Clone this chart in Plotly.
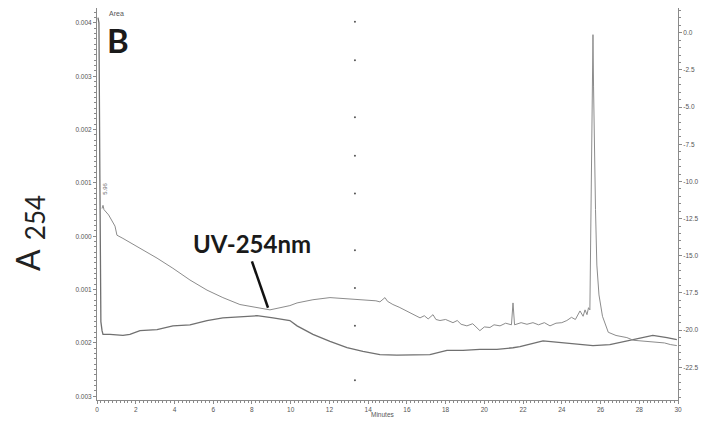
import plotly.graph_objects as go

# Upper trace (UV-254nm), values in units of 0.001 AU
uv_time = [0.26, 0.31, 0.36, 0.41, 0.6, 0.93, 1.03, 1.34, 2.22, 3.10,
           3.92, 4.80, 5.68, 6.50, 7.38, 8.26, 8.93, 9.45, 9.96, 10.33,
           11.15, 12.03, 12.91, 13.73, 14.40, 14.61, 14.87, 15.0, 15.28, 15.6,
           16.00, 16.3, 16.68, 16.9, 17.1, 17.35, 17.5, 17.71, 18.0, 18.38,
           18.6, 18.8, 19.10, 19.4, 19.77, 20.0, 20.29, 20.5, 20.81, 21.1,
           21.40, 21.48, 21.56, 21.9, 22.2, 22.51, 22.8, 23.1, 23.39, 23.7,
           24.0, 24.26, 24.5, 24.7, 24.94, 25.1, 25.20, 25.30, 25.38, 25.45,
           25.49, 25.54, 25.58, 25.61, 25.64, 25.68, 25.74, 25.81, 25.92, 26.1,
           26.4, 26.8, 27.36, 27.7, 28.03, 28.4, 28.91, 29.3, 29.6, 29.94]
uv_value = [0.52, 0.58, 0.50, 0.48, 0.40, 0.19, 0.02, -0.04, -0.22, -0.41,
            -0.60, -0.82, -1.01, -1.15, -1.28, -1.34, -1.38, -1.34, -1.30, -1.25,
            -1.19, -1.15, -1.17, -1.19, -1.21, -1.23, -1.15, -1.22, -1.28, -1.33,
            -1.40, -1.45, -1.53, -1.49, -1.55, -1.47, -1.56, -1.58, -1.56, -1.62,
            -1.58, -1.65, -1.68, -1.64, -1.77, -1.70, -1.71, -1.66, -1.68, -1.63,
            -1.66, -1.25, -1.66, -1.62, -1.65, -1.62, -1.66, -1.62, -1.68, -1.63,
            -1.62, -1.58, -1.52, -1.56, -1.40, -1.50, -1.38, -1.47, -1.34, -1.38,
            0.10, 1.60, 3.00, 3.78, 2.80, 1.60, 0.50, -0.54, -1.10, -1.50,
            -1.80, -1.86, -1.90, -1.95, -1.96, -1.98, -1.99, -2.00, -2.03, -2.05]

# Lower trace
base_time = [0.05, 0.10, 0.15, 0.20, 0.26, 0.31, 0.67, 1.34, 1.70, 2.22,
             3.10, 3.92, 4.80, 5.68, 6.50, 7.38, 8.26, 9.09, 9.96, 10.33,
             11.15, 12.03, 12.91, 13.73, 14.61, 15.49, 16.31, 17.19, 18.07, 18.90,
             19.77, 20.65, 21.48, 21.84, 23.03, 23.90, 24.78, 25.61, 26.48, 27.36,
             28.03, 28.70, 29.43, 29.94]
base_value = [4.1, 4.0, 1.0, -1.6, -1.77, -1.84, -1.84, -1.86, -1.84, -1.77,
              -1.75, -1.68, -1.66, -1.58, -1.53, -1.51, -1.49, -1.53, -1.58, -1.68,
              -1.84, -1.97, -2.09, -2.16, -2.22, -2.23, -2.23, -2.22, -2.14, -2.14,
              -2.12, -2.12, -2.09, -2.07, -1.96, -1.99, -2.03, -2.05, -2.03, -1.96,
              -1.90, -1.86, -1.90, -1.94]

# Event marker dots
event_time = 13.32
event_dots = [4.02, 3.30, 2.23, 1.51, 0.80, -0.26, -0.97, -1.68, -2.70]

left_ticks = [4, 3, 2, 1, 0, -1, -2, -3]
left_labels = ["0.004", "0.003", "0.002", "0.001", "0.000", "0.001", "0.002", "0.003"]
right_ticks = [0, -2.5, -5, -7.5, -10, -12.5, -15, -17.5, -20, -22.5]
right_labels = ["0.0", "-2.5", "-5.0", "-7.5", "-10.0", "-12.5", "-15.0", "-17.5", "-20.0", "-22.5"]
x_ticks = list(range(0, 31, 2))

tickfont = dict(family="Liberation Sans", size=6.5, color="#555")
axcol = "#8a8a8a"

fig = go.Figure()
fig.add_trace(go.Scatter(x=base_time, y=base_value, mode="lines",
                         line=dict(color="#707070", width=1.3), showlegend=False))
fig.add_trace(go.Scatter(x=uv_time, y=uv_value, mode="lines",
                         line=dict(color="#8c8c8c", width=1.0), showlegend=False))
fig.add_trace(go.Scatter(x=[event_time] * len(event_dots), y=event_dots, mode="markers",
                         marker=dict(color="#555", size=2), showlegend=False))
fig.add_trace(go.Scatter(x=[None], y=[None], yaxis="y2", showlegend=False))

fig.update_layout(
    width=708, height=421,
    margin=dict(l=97, r=30, t=8, b=18),
    paper_bgcolor="white", plot_bgcolor="white",
    xaxis=dict(range=[0, 30], tickvals=x_ticks, showgrid=False, zeroline=False,
               showline=True, linecolor=axcol, linewidth=1,
               ticks="outside", ticklen=3, tickcolor=axcol, tickfont=tickfont,
               minor=dict(dtick=0.2, ticks="outside", ticklen=2, tickcolor=axcol)),
    yaxis=dict(range=[-3.07, 4.28], tickvals=left_ticks, ticktext=left_labels,
               showgrid=False, zeroline=False, showline=True, linecolor=axcol, linewidth=1,
               ticks="outside", ticklen=3, tickcolor=axcol, tickfont=tickfont,
               minor=dict(dtick=0.1, ticks="outside", ticklen=2, tickcolor=axcol)),
    yaxis2=dict(range=[-24.70, 1.67], overlaying="y", side="right",
                tickvals=right_ticks, ticktext=right_labels,
                showgrid=False, zeroline=False, showline=True, linecolor=axcol, linewidth=1,
                ticks="outside", ticklen=3, tickcolor=axcol, tickfont=tickfont,
                minor=dict(dtick=0.5, ticks="outside", ticklen=2, tickcolor=axcol)),
)

# UV-254nm pointer line
fig.add_shape(type="line", x0=8.00, y0=-0.47, x1=8.83, y1=-1.34,
              line=dict(color="#111", width=2.5))

fig.add_annotation(text="<b>UV-254nm</b>", x=8.0, y=-0.13, xref="x", yref="y",
                   showarrow=False, font=dict(family="Lato", size=24, color="#1a1a1a"),
                   xanchor="center", yanchor="middle")
fig.add_annotation(text="<b>B</b>", x=0.036, y=0.918, xref="paper", yref="paper",
                   showarrow=False, borderpad=0,
                   font=dict(family="Lato", size=33, color="#1a1a1a"),
                   xanchor="center", yanchor="middle")
fig.add_annotation(text="Area", x=0.034, y=0.986, xref="paper", yref="paper",
                   showarrow=False, borderpad=0,
                   font=dict(family="Liberation Sans", size=7, color="#555"),
                   xanchor="center", yanchor="middle")
fig.add_annotation(text="5.96", x=0.41, y=0.89, xref="x", yref="y", textangle=-90,
                   showarrow=False, font=dict(family="Liberation Sans", size=6, color="#666"),
                   xanchor="center", yanchor="middle")
fig.add_annotation(text="Minutes", x=0.492, y=-0.038, xref="paper", yref="paper",
                   showarrow=False, font=dict(family="Liberation Sans", size=6.5, color="#555"),
                   xanchor="center", yanchor="middle")
# Axis title A with subscript 254
fig.add_annotation(text="A", x=-0.1205, y=0.357, xref="paper", yref="paper",
                   textangle=-90, showarrow=False,
                   font=dict(family="Lato", size=32, color="#222"),
                   xanchor="center", yanchor="middle")
fig.add_annotation(text="254", x=-0.107, y=0.466, xref="paper", yref="paper",
                   textangle=-90, showarrow=False,
                   font=dict(family="Lato", size=26, color="#222"),
                   xanchor="center", yanchor="middle")

fig.write_html("out.html")
